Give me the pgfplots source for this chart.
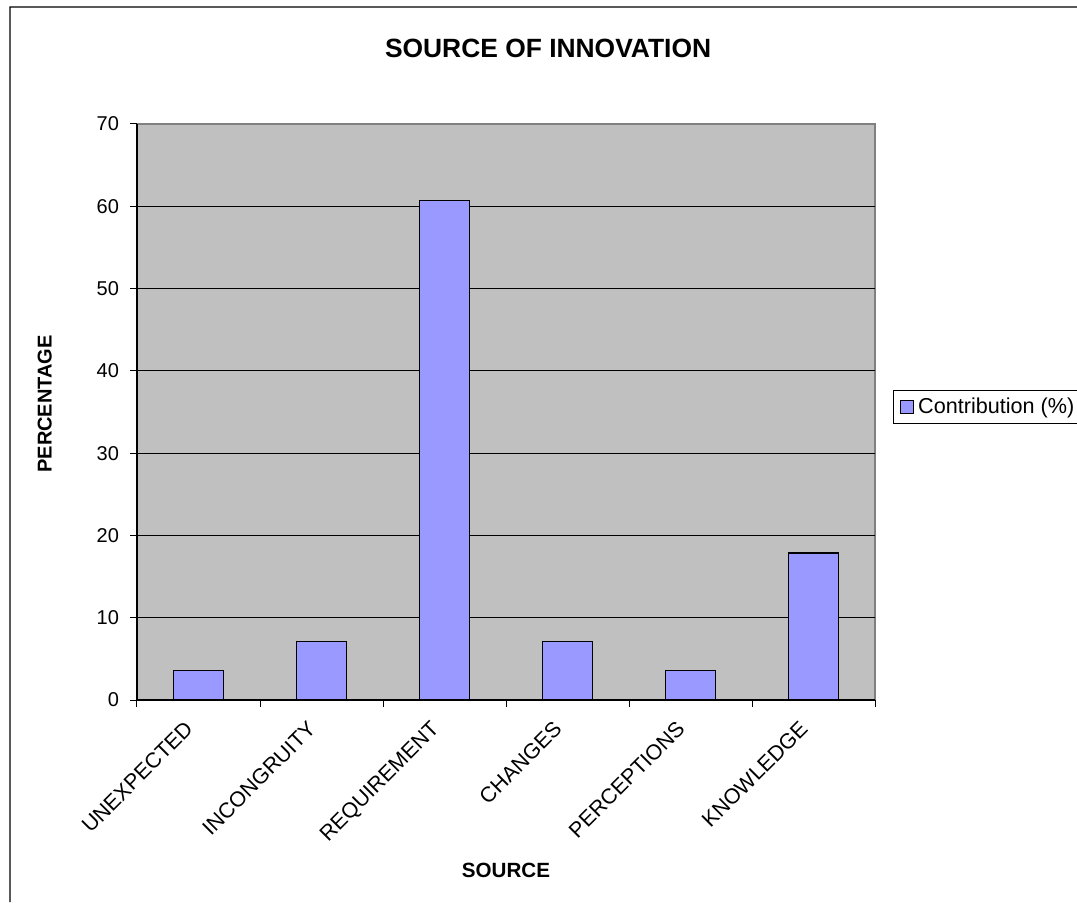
\documentclass[border=0pt]{standalone}
\usepackage{fontspec}
\setmainfont{Liberation Sans}
\usepackage{pgfplots}
\pgfplotsset{compat=1.18}
\definecolor{plotbg}{HTML}{C0C0C0}
\definecolor{barfill}{HTML}{9999FF}
\definecolor{frameg}{HTML}{808080}
\begin{document}
\begin{tikzpicture}
\begin{axis}[
  name=ax,
  scale only axis,
  width=369pt, height=288pt,
  xmin=-0.5, xmax=5.5, ymin=0, ymax=70,
  axis lines*=left,
  axis line style={black, line width=0.6pt},
  axis background/.style={fill=plotbg, draw=frameg, line width=0.6pt},
  ytick={0,10,...,70},
  xtick={-0.5,0.5,...,5.5},
  xticklabels={},
  extra x ticks={0,1,2,3,4,5},
  extra x tick labels={UNEXPECTED,INCONGRUITY,REQUIREMENT,CHANGES,PERCEPTIONS,KNOWLEDGE},
  extra x tick style={tick style={draw=none}},
  extra y ticks={10,20,30,40,50,60},
  extra y tick labels={},
  extra y tick style={grid=major, tick style={draw=none}},
  major grid style={black, line width=0.5pt},
  tick align=outside,
  major tick length=3.3pt,
  tick style={black, line width=0.5pt},
  /pgf/number format/assume math mode=true,
  yticklabel style={font=\fontsize{10}{12}\selectfont, xshift=-2.2pt},
  xticklabel style={font=\fontsize{10.7}{12}\selectfont, xshift=-7.5pt, yshift=-5pt, rotate=45, anchor=north east, inner sep=1pt},
  title={SOURCE OF INNOVATION},
  title style={font=\bfseries\fontsize{13.2}{15}\selectfont, at={(axis description cs:0.557,1.111)}, anchor=center, yshift=0pt},
  xlabel={SOURCE},
  xlabel style={font=\bfseries\fontsize{10.3}{12}\selectfont, at={(axis description cs:0.5,-0.295)}, anchor=center},
  ylabel={PERCENTAGE},
  ylabel style={font=\bfseries\fontsize{10}{12}\selectfont, at={(axis description cs:-0.125,0.514)}, anchor=center, rotate=0},
  legend style={at={(1.024,0.509)}, anchor=west, draw=black, line width=0.5pt, fill=white,
    font=\fontsize{10.8}{12}\selectfont, inner xsep=3.5pt, inner ysep=1.5pt},
  legend cell align=left,
  legend image code/.code={\draw[#1, line width=0.5pt] (0pt,-3.25pt) rectangle (6.5pt,3.25pt);},
]
\addplot[ybar, fill=barfill, draw=black, line width=0.6pt, bar width=0.41]
  coordinates {(0,3.57) (1,7.14) (2,60.71) (3,7.14) (4,3.57) (5,17.86)};
\addlegendentry{Contribution (\%)}
\end{axis}
\pgfresetboundingbox
\path[use as bounding box] ([xshift=-68.5pt,yshift=-101pt]ax.south west) rectangle ([xshift=101pt,yshift=62pt]ax.north east);
\draw[black, line width=0.6pt] ([xshift=-63.5pt,yshift=-101pt]ax.south west) -- ([xshift=-63.5pt,yshift=346.5pt]ax.south west) -- ([xshift=101pt,yshift=58.5pt]ax.north east);
\end{tikzpicture}
\end{document}
